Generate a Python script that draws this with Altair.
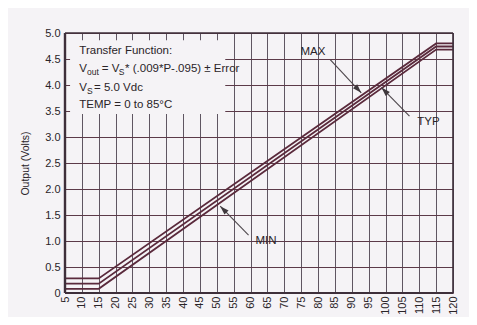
import math
import altair as alt
import pandas as pd

# ---- data ----
curve_x = [5, 15, 115, 120]
max_v = [0.28, 0.28, 4.80, 4.80]
typ_v = [0.18, 0.18, 4.74, 4.74]
min_v = [0.08, 0.08, 4.68, 4.68]

x_ticks = [5, 10, 15, 20, 25, 30, 35, 40, 45, 50, 55, 60, 65, 70, 75, 80,
           85, 90, 95, 100, 105, 110, 115, 120]
y_ticks = [0, 0.5, 1.0, 1.5, 2.0, 2.5, 3.0, 3.5, 4.0, 4.5, 5.0]

box_x = [6.5, 52.5]
box_y = [3.44, 4.86]

main_text = ["Transfer Function:", "V", "= V", "* (.009*P-.095) \u00b1 Error",
             "V", "= 5.0 Vdc", "TEMP = 0 to 85\u00b0C"]
main_x = [9.24, 9.24, 15.9, 22.8, 9.24, 13.6, 9.24]
main_y = [4.60, 4.25, 4.25, 4.25, 3.885, 3.885, 3.56]
sub_text = ["out", "S", "S"]
sub_x = [11.5, 20.9, 11.5]
sub_y = [4.25, 4.25, 3.885]

callout_text = ["MAX", "TYP", "MIN"]
callout_x = [78.5, 112.7, 64.6]
callout_y = [4.64, 3.28, 1.0]
arrow_x0 = [83.6, 107.1, 59.4]
arrow_y0 = [4.49, 3.40, 1.115]
arrow_x1 = [92.8, 98.8, 51.0]
arrow_y1 = [3.85, 3.95, 1.67]

# ---- layout ----
W, H = 388, 260
XD, YD = [5, 120], [0, 5]
FONT = "Liberation Sans, Arial, sans-serif"
BG = "#f5f3f6"
LINE = "#5a2a3c"
INK = "#2a2428"

xs = alt.Scale(domain=XD, nice=False, zero=False)
ys = alt.Scale(domain=YD, nice=False, zero=False)

AX = alt.Axis(
    values=x_ticks, labelAngle=270, grid=True,
    gridColor="#5f5662", gridWidth=1, domain=False, ticks=True,
    tickSize=0, labelPadding=3, labelFont=FONT, labelFontSize=11,
    labelColor=INK, labelFlush=False, labelOverlap=False, title=None)
AY = alt.Axis(
    values=y_ticks, grid=True,
    gridColor="#5c3a49", gridWidth=1.2, domain=False, ticks=True,
    tickSize=0, labelPadding=5, labelFont=FONT, labelFontSize=11,
    labelColor=INK, labelFlush=False, labelOverlap=False,
    labelExpr="datum.value == 0 ? '0' : format(datum.value, '.1f')",
    title="Output (Volts)", titleFont=FONT, titleFontSize=10.5,
    titleFontWeight="normal", titleColor=INK, titleAngle=270,
    titleX=-40, titleY=H / 2, titleAlign="center",
    titleBaseline="middle")


def X(f):
    return alt.X(f, scale=xs, axis=AX, title=None)


def Y(f):
    return alt.Y(f, scale=ys, axis=AY, title="Output (Volts)")


rows = []
for name, vals in [("MAX", max_v), ("TYP", typ_v), ("MIN", min_v)]:
    for xv, yv in zip(curve_x, vals):
        rows.append({"series": name, "p": xv, "v": yv})
curves_df = pd.DataFrame(rows)

curves = alt.Chart(curves_df).mark_line(color=LINE, strokeWidth=1.8).encode(
    x=X("p:Q"), y=Y("v:Q"), detail="series:N")

box_df = pd.DataFrame({"x": [box_x[0]], "x2": [box_x[1]],
                       "y": [box_y[0]], "y2": [box_y[1]]})
box = alt.Chart(box_df).mark_rect(color=BG).encode(
    x=X("x:Q"), x2="x2:Q", y=Y("y:Q"), y2="y2:Q")

frame_df = pd.DataFrame({
    "x": [XD[0], XD[1], XD[0], XD[0]],
    "x2": [XD[0], XD[1], XD[1], XD[1]],
    "y": [YD[0], YD[0], YD[0], YD[1]],
    "y2": [YD[1], YD[1], YD[0], YD[1]],
    "w": [2.4, 1.6, 2.2, 1.6],
})
frame = alt.Chart(frame_df).mark_rule(color="#3e2f3a").encode(
    x=X("x:Q"), x2="x2:Q", y=Y("y:Q"), y2="y2:Q",
    strokeWidth=alt.StrokeWidth("w:Q", scale=None))

main_df = pd.DataFrame({"t": main_text, "x": main_x, "y": main_y})
main = alt.Chart(main_df).mark_text(
    align="left", baseline="alphabetic", font=FONT, fontSize=11.5,
    color=INK).encode(x=X("x:Q"), y=Y("y:Q"), text="t:N")

sub_df = pd.DataFrame({"t": sub_text, "x": sub_x, "y": sub_y})
sub = alt.Chart(sub_df).mark_text(
    align="left", baseline="alphabetic", font=FONT, fontSize=8.5, dy=3,
    color=INK).encode(x=X("x:Q"), y=Y("y:Q"), text="t:N")

call_df = pd.DataFrame({"t": callout_text, "x": callout_x, "y": callout_y})
calls = alt.Chart(call_df).mark_text(
    align="center", baseline="middle", font=FONT, fontSize=11.5,
    color=INK).encode(x=X("x:Q"), y=Y("y:Q"), text="t:N")

pxx = W / (XD[1] - XD[0])
pxy = H / (YD[1] - YD[0])
angles = []
for a, b, c, d in zip(arrow_x0, arrow_y0, arrow_x1, arrow_y1):
    dx = (c - a) * pxx
    dy = -(d - b) * pxy
    angles.append(math.degrees(math.atan2(dx, -dy)) % 360)

arrow_df = pd.DataFrame({"x0": arrow_x0, "y0": arrow_y0,
                         "x1": arrow_x1, "y1": arrow_y1, "ang": angles})
shafts = alt.Chart(arrow_df).mark_rule(color="#4d464b", strokeWidth=1.1).encode(
    x=X("x0:Q"), y=Y("y0:Q"), x2="x1:Q", y2="y1:Q")
heads = alt.Chart(arrow_df).mark_point(
    shape="M0,0L-0.32,1L0.32,1Z", filled=True, size=324, opacity=1,
    color="#3f383d").encode(
    x=X("x1:Q"), y=Y("y1:Q"), angle=alt.Angle("ang:Q", scale=None))

chart = alt.layer(curves, box, frame, main, sub, calls, shafts, heads).properties(
    width=W, height=H,
    autosize=alt.AutoSizeParams(type="none"),
    padding={"left": 57, "top": 25, "right": 16, "bottom": 24},
    background=BG,
).configure_view(strokeOpacity=0)

chart.save("out.html", embed_options={"renderer": "svg", "actions": False})
